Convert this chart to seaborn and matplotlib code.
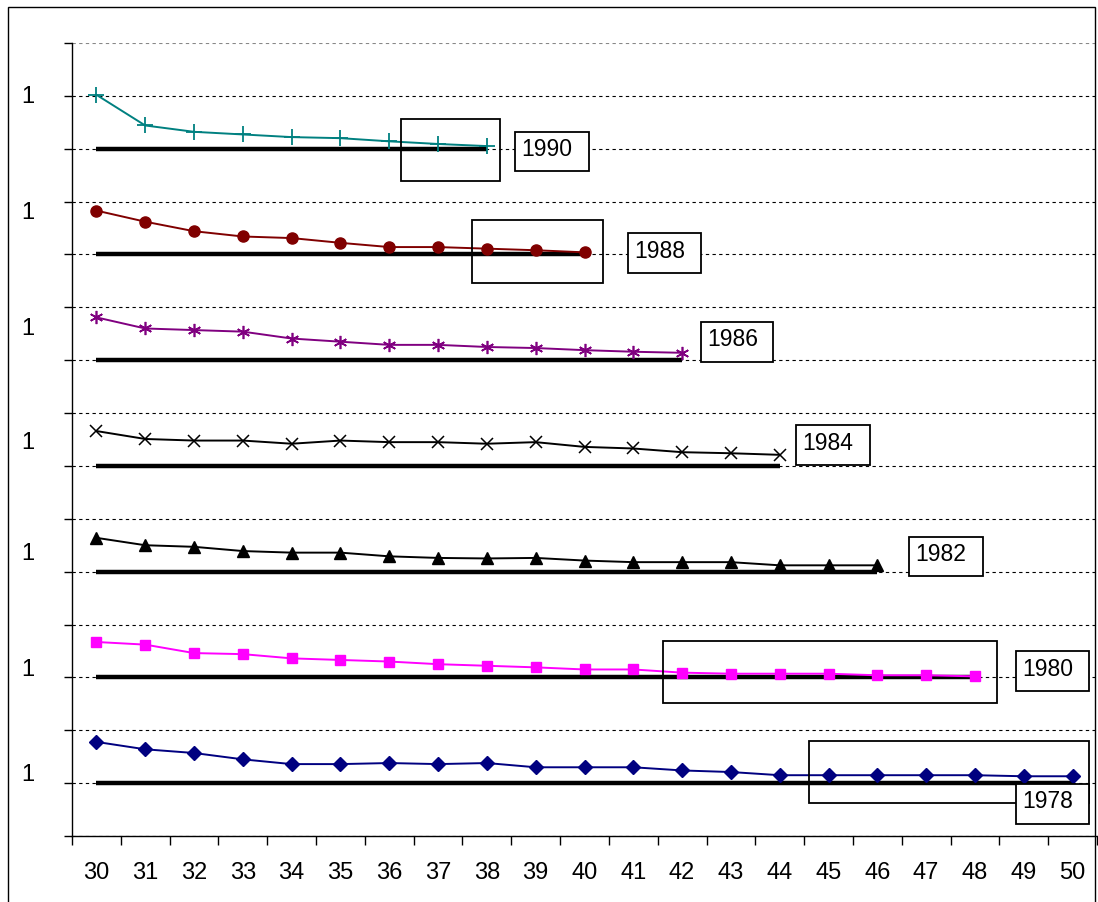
import numpy as np
import pandas as pd
import matplotlib
matplotlib.use("Agg")
import matplotlib.pyplot as plt
from matplotlib.patches import Rectangle
import seaborn as sns

# ---------------- data ----------------
ages = list(range(30, 51))
years = ["1990", "1988", "1986", "1984", "1982", "1980", "1978"]

v1990 = [1.02, 0.44, 0.32, 0.27, 0.22, 0.20, 0.14, 0.09, 0.05]
v1988 = [0.83, 0.62, 0.44, 0.34, 0.31, 0.22, 0.14, 0.14, 0.11, 0.08, 0.04]
v1986 = [0.81, 0.60, 0.57, 0.54, 0.41, 0.35, 0.29, 0.29, 0.25, 0.23, 0.19, 0.16, 0.14]
v1984 = [0.66, 0.51, 0.48, 0.48, 0.42, 0.48, 0.45, 0.45, 0.42, 0.45, 0.36, 0.33, 0.26, 0.24, 0.21]
v1982 = [0.64, 0.50, 0.47, 0.39, 0.36, 0.36, 0.29, 0.26, 0.25, 0.26, 0.21, 0.18, 0.18, 0.18,
         0.12, 0.12, 0.12]
v1980 = [0.67, 0.62, 0.46, 0.44, 0.36, 0.33, 0.30, 0.25, 0.22, 0.19, 0.15, 0.15, 0.09, 0.07,
         0.07, 0.07, 0.04, 0.04, 0.02]
v1978 = [0.78, 0.64, 0.57, 0.45, 0.36, 0.36, 0.38, 0.36, 0.38, 0.30, 0.30, 0.30, 0.24, 0.21,
         0.15, 0.15, 0.15, 0.15, 0.15, 0.13, 0.13]

series_values = [v1990, v1988, v1986, v1984, v1982, v1980, v1978]
levels = [13, 11, 9, 7, 5, 3, 1]          # baseline level of each stacked series
y_label_pos = [14.02, 11.84, 9.63, 7.49, 5.39, 3.18, 1.21]
y_label_text = ["1", "1", "1", "1", "1", "1", "1"]

# ---------------- styles ----------------
colors = ["#008080", "#800000", "#800080", "#000000", "#000000", "#FF00FF", "#000080"]
markers = ["+", "o", (6, 2, 0), "x", "^", "s", "D"]
msizes = [11, 8, 9.5, 9, 8.5, 7.5, 7]
mews = [1.3, 1.0, 1.2, 1.1, 1.0, 1.0, 1.0]

sns.set_theme(style="white")
plt.rcParams["font.family"] = ["Liberation Sans", "DejaVu Sans"]

W, H = 1098, 902
L, R, T, B = 72, 1097, 43, 836
fig = plt.figure(figsize=(W / 100, H / 100), dpi=100)
ax = fig.add_axes([L / W, 1 - B / H, (R - L) / W, (B - T) / H])
ax.set_xlim(29.5, 50.5)
ax.set_ylim(0, 15)


def px_x(p):
    return 29.5 + (p - L) / ((R - L) / 21.0)


def px_y(p):
    return (B - p) / ((B - T) / 15.0)


# grid / ticks
ax.set_yticks(range(0, 16))
ax.grid(axis="y", color="black", linestyle=(0, (3, 3)), linewidth=0.8)
ax.get_ygridlines()[-1].set_color("#888888")
ax.set_axisbelow(True)
ax.tick_params(axis="y", which="major", left=True, length=6, width=1, color="black",
               labelleft=False, direction="out")
ax.set_yticks(y_label_pos, minor=True)
ax.set_yticklabels(y_label_text, minor=True)
ax.tick_params(axis="y", which="minor", left=True, length=0, pad=27, labelsize=17,
               labelcolor="black")

ax.set_xticks(ages)
ax.set_xticklabels([str(a) for a in ages])
ax.set_xticks(np.arange(29.5, 51, 1.0), minor=True)
ax.tick_params(axis="x", which="major", bottom=True, length=0, pad=19, labelsize=17,
               labelcolor="black")
ax.tick_params(axis="x", which="minor", bottom=True, length=6.5, width=1, color="black",
               direction="out")
ax.grid(axis="x", visible=False)

for s in ["top", "right"]:
    ax.spines[s].set_visible(False)
for s in ["left", "bottom"]:
    ax.spines[s].set_color("black")
    ax.spines[s].set_linewidth(1)

# series
for vals, lvl, c, m, ms, mw in zip(series_values, levels, colors, markers, msizes, mews):
    n = len(vals)
    xs = ages[:n]
    ax.hlines(lvl, xs[0], xs[-1], color="black", linewidth=3.2, zorder=2)
    df = pd.DataFrame({"age": xs, "value": np.array(vals) + lvl})
    sns.lineplot(data=df, x="age", y="value", ax=ax, color=c, marker=m, markersize=ms,
                 markeredgecolor=c, markerfacecolor=c, markeredgewidth=mw,
                 linewidth=1.4, zorder=3, legend=False)
ax.set_xlabel("")
ax.set_ylabel("")

# highlight boxes (pixel layout)
region_boxes = [(401, 119, 500, 181), (472, 220, 603, 283), (663, 641, 997, 703),
                (809, 741, 1089, 803)]
for x0, y0, x1, y1 in region_boxes:
    ax.add_patch(Rectangle((px_x(x0), px_y(y1)), px_x(x1) - px_x(x0), px_y(y0) - px_y(y1),
                           fill=False, edgecolor="black", linewidth=1.3, zorder=4,
                           clip_on=False))

label_boxes = [(515, 132, 589, 171), (628, 233, 701, 273), (701, 322, 773, 362),
               (796, 425, 870, 465), (909, 537, 983, 576), (1016, 651, 1089, 691),
               (1016, 784, 1089, 824)]
for (x0, y0, x1, y1), yr in zip(label_boxes, years):
    ax.add_patch(Rectangle((px_x(x0), px_y(y1)), px_x(x1) - px_x(x0), px_y(y0) - px_y(y1),
                           facecolor="white", edgecolor="black", linewidth=1.3, zorder=5,
                           clip_on=False))
    ax.text(px_x(x0 + 6), px_y((y0 + y1) / 2 - 2), yr, ha="left", va="center",
            fontsize=16.5, color="black", zorder=6)

# outer border
fig.patches.append(Rectangle((8 / W, -0.01), (1095 - 8) / W, 1.01 - 7 / H,
                             transform=fig.transFigure, fill=False, edgecolor="black",
                             linewidth=1.0))

fig.savefig("out.png", dpi=100)
